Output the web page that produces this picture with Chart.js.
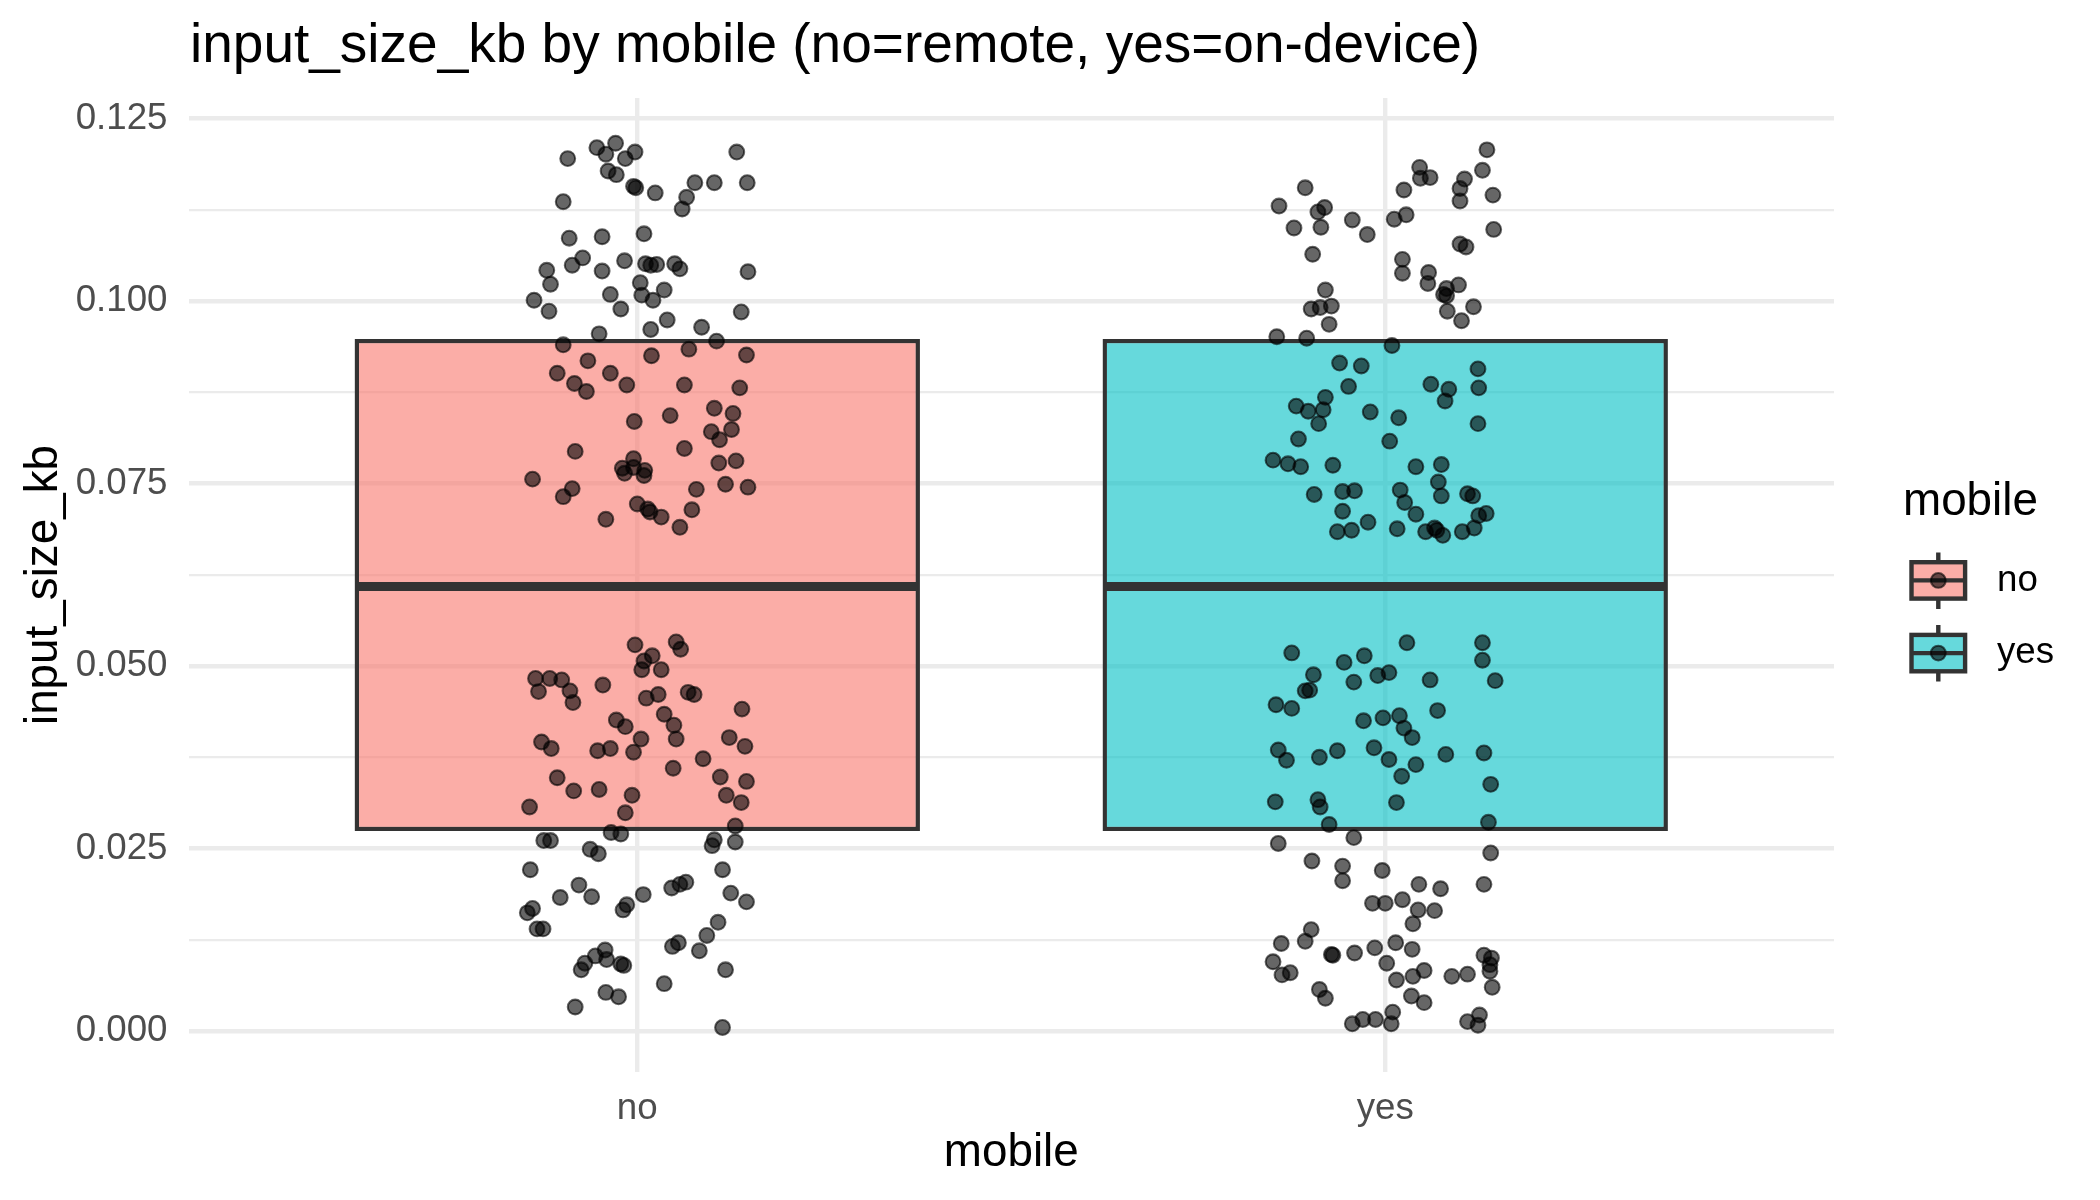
<!DOCTYPE html>
<html>
<head>
<meta charset="utf-8">
<title>input_size_kb by mobile</title>
<script src="https://cdn.jsdelivr.net/npm/chart.js@4.4.1/dist/chart.umd.min.js"></script>
<style>
  html, body { margin: 0; padding: 0; background: #ffffff; }
  #wrap { width: 2100px; height: 1200px; }
</style>
</head>
<body>
<div id="wrap"><canvas id="boxChart" width="2100" height="1200"></canvas></div>
<script>
// --- data ---
const categories = ['no', 'yes'];
const boxQ1 = [0.0274, 0.0274];
const boxMedian = [0.0609, 0.0609];
const boxQ3 = [0.0948, 0.0948];
const yTickValues = [0, 0.0125, 0.025, 0.0375, 0.05, 0.0625, 0.075, 0.0875, 0.1, 0.1125, 0.125];

// jittered points: [x position, input_size_kb]
const noPoints = [
    [0.907, 0.1195], [0.946, 0.1210], [0.971, 0.1216], [0.958, 0.1201], [0.984, 0.1195], [0.997, 0.1204],
    [0.961, 0.1178], [0.972, 0.1173], [0.995, 0.1157], [0.998, 0.1155], [1.024, 0.1148], [0.901, 0.1136],
    [1.077, 0.1162], [1.103, 0.1162], [1.147, 0.1162], [1.133, 0.1204], [1.066, 0.1142], [1.060, 0.1126],
    [0.909, 0.1086], [0.953, 0.1088], [1.009, 0.1092], [0.879, 0.1042], [0.884, 0.1023], [0.913, 0.1049],
    [0.927, 0.1059], [0.953, 0.1041], [0.983, 0.1055], [1.011, 0.1051], [1.018, 0.1049], [1.026, 0.1050],
    [1.050, 0.1051], [1.057, 0.1044], [1.148, 0.1040], [1.004, 0.1025], [1.006, 0.1008], [1.021, 0.1001],
    [1.036, 0.1015], [0.964, 0.1009], [0.978, 0.0989], [0.862, 0.1001], [0.882, 0.0986], [1.139, 0.0985],
    [1.040, 0.0974], [1.018, 0.0961], [1.086, 0.0964], [0.949, 0.0955],
    [0.901, 0.0940], [1.106, 0.0945], [0.934, 0.0918], [1.019, 0.0925], [1.069, 0.0934], [1.146, 0.0926],
    [0.893, 0.0901], [0.916, 0.0887], [0.932, 0.0876], [0.964, 0.0901], [0.986, 0.0885], [1.063, 0.0885],
    [1.137, 0.0881], [0.996, 0.0835], [1.044, 0.0843], [1.103, 0.0853], [1.128, 0.0846], [1.099, 0.0821],
    [1.126, 0.0824], [1.110, 0.0810], [0.917, 0.0794], [1.063, 0.0798], [0.995, 0.0784], [0.980, 0.0771],
    [0.983, 0.0764], [0.995, 0.0772], [1.010, 0.0768], [1.009, 0.0761], [1.109, 0.0778], [1.132, 0.0781],
    [0.860, 0.0756], [0.913, 0.0743], [0.901, 0.0732], [1.079, 0.0742], [1.118, 0.0749], [1.148, 0.0745],
    [1.000, 0.0722], [1.014, 0.0715], [1.017, 0.0711], [1.032, 0.0704], [1.073, 0.0714], [1.057, 0.0690],
    [0.958, 0.0701],
    [0.997, 0.0529], [1.052, 0.0533], [1.058, 0.0523], [1.020, 0.0514], [1.009, 0.0507], [1.006, 0.0495],
    [1.032, 0.0495], [0.864, 0.0483], [0.883, 0.0483], [0.899, 0.0481], [0.868, 0.0465], [0.910, 0.0466],
    [0.914, 0.0450], [0.954, 0.0474], [1.012, 0.0456], [1.028, 0.0461], [1.068, 0.0464], [1.076, 0.0461],
    [1.140, 0.0441], [0.972, 0.0426], [0.984, 0.0417], [1.036, 0.0434], [1.049, 0.0419], [1.052, 0.0400],
    [1.005, 0.0400], [0.995, 0.0382], [0.964, 0.0387], [0.947, 0.0384], [0.872, 0.0396], [0.885, 0.0387],
    [1.123, 0.0402], [1.144, 0.0390], [1.088, 0.0373], [1.048, 0.0360], [0.893, 0.0347], [0.915, 0.0329],
    [0.949, 0.0331], [0.993, 0.0323], [0.984, 0.0299], [0.856, 0.0307], [1.111, 0.0348], [1.146, 0.0342],
    [1.119, 0.0323], [1.139, 0.0313], [1.131, 0.0281],
    [0.965, 0.0272], [0.978, 0.0270], [0.875, 0.0261], [0.884, 0.0261], [0.937, 0.0249], [0.948, 0.0243],
    [1.103, 0.0262], [1.100, 0.0254], [1.131, 0.0259], [0.857, 0.0221], [1.114, 0.0221], [0.922, 0.0200],
    [0.897, 0.0183], [0.939, 0.0184], [0.860, 0.0168], [0.853, 0.0162], [0.866, 0.0140], [0.874, 0.0140],
    [0.986, 0.0173], [0.981, 0.0166], [1.008, 0.0187], [1.046, 0.0196], [1.057, 0.0201], [1.065, 0.0204],
    [1.125, 0.0189], [1.146, 0.0177], [1.108, 0.0149], [1.093, 0.0131], [1.083, 0.0110], [1.047, 0.0116],
    [1.055, 0.0121], [1.118, 0.0084], [1.036, 0.0065], [1.114, 0.0005], [0.957, 0.0111], [0.944, 0.0103],
    [0.930, 0.0093], [0.925, 0.0084], [0.959, 0.0098], [0.978, 0.0092], [0.982, 0.0090], [0.958, 0.0053],
    [0.975, 0.0047], [0.917, 0.0033]
];

const yesPoints = [
    [2.136, 0.1207], [2.130, 0.1179], [2.106, 0.1167], [2.100, 0.1154], [2.100, 0.1137], [2.144, 0.1145],
    [2.046, 0.1183], [2.047, 0.1168], [2.060, 0.1169], [2.025, 0.1152], [2.028, 0.1118], [2.012, 0.1112],
    [1.893, 0.1155], [1.858, 0.1130], [1.910, 0.1122], [1.919, 0.1128], [1.878, 0.1100], [1.914, 0.1101],
    [1.956, 0.1111], [1.976, 0.1091], [1.903, 0.1064], [2.145, 0.1098], [2.100, 0.1078], [2.108, 0.1074],
    [2.023, 0.1057], [2.023, 0.1038], [2.058, 0.1039], [2.057, 0.1024], [2.098, 0.1022], [2.082, 0.1017],
    [2.078, 0.1009], [2.082, 0.1007], [2.083, 0.0986], [2.102, 0.0973], [2.118, 0.0992], [1.920, 0.1015],
    [1.901, 0.0989], [1.913, 0.0991], [1.928, 0.0993], [1.925, 0.0968], [1.855, 0.0951], [1.895, 0.0949],
    [2.009, 0.0939], [1.939, 0.0915], [1.968, 0.0911], [1.951, 0.0883], [1.920, 0.0868], [1.881, 0.0856],
    [1.897, 0.0849], [1.917, 0.0851], [1.911, 0.0832], [1.980, 0.0848], [2.018, 0.0840], [1.884, 0.0811],
    [2.006, 0.0808], [2.061, 0.0886], [2.085, 0.0879], [2.080, 0.0863], [2.124, 0.0907], [2.125, 0.0881],
    [2.124, 0.0832], [1.850, 0.0782], [1.870, 0.0777], [1.887, 0.0773], [1.930, 0.0775], [2.041, 0.0773],
    [2.075, 0.0776], [2.071, 0.0752], [2.075, 0.0733], [1.905, 0.0735], [1.943, 0.0739], [1.959, 0.0740],
    [2.020, 0.0741], [2.026, 0.0724], [2.041, 0.0708], [1.943, 0.0712], [1.977, 0.0697], [1.936, 0.0684],
    [1.955, 0.0686], [2.016, 0.0688], [2.054, 0.0684], [2.066, 0.0689], [2.069, 0.0686], [2.077, 0.0679],
    [2.103, 0.0684], [2.119, 0.0689], [2.110, 0.0736], [2.117, 0.0733], [2.125, 0.0706], [2.135, 0.0709],
    [1.875, 0.0518], [2.029, 0.0532], [2.130, 0.0532], [2.130, 0.0508], [2.147, 0.0480], [1.945, 0.0505],
    [1.972, 0.0514], [1.958, 0.0478], [1.990, 0.0487], [2.005, 0.0491], [2.060, 0.0481], [1.904, 0.0488],
    [1.893, 0.0466], [1.899, 0.0467], [1.854, 0.0447], [1.875, 0.0442], [2.070, 0.0439], [1.971, 0.0425],
    [1.997, 0.0429], [2.019, 0.0432], [2.025, 0.0415], [2.036, 0.0402], [1.857, 0.0385], [1.868, 0.0371],
    [1.912, 0.0375], [1.936, 0.0384], [1.985, 0.0388], [2.005, 0.0372], [2.041, 0.0365], [2.022, 0.0349],
    [2.081, 0.0379], [2.132, 0.0381], [2.141, 0.0338], [1.853, 0.0314], [1.910, 0.0317], [1.913, 0.0307],
    [2.015, 0.0313], [1.925, 0.0283], [2.138, 0.0286],
    [1.958, 0.0265], [1.857, 0.0257], [2.141, 0.0244], [1.902, 0.0233], [1.943, 0.0226], [1.943, 0.0206],
    [1.996, 0.0220], [2.045, 0.0201], [2.074, 0.0195], [2.132, 0.0201], [1.983, 0.0175], [2.000, 0.0175],
    [2.023, 0.0180], [2.044, 0.0166], [2.066, 0.0165], [2.037, 0.0147], [1.901, 0.0139], [1.893, 0.0123],
    [1.861, 0.0120], [1.850, 0.0095], [1.862, 0.0077], [1.873, 0.0080], [1.928, 0.0105], [1.930, 0.0104],
    [1.959, 0.0107], [1.986, 0.0114], [2.002, 0.0093], [2.014, 0.0121], [2.036, 0.0112], [2.015, 0.0070],
    [2.037, 0.0075], [2.052, 0.0083], [2.089, 0.0075], [2.110, 0.0078], [2.035, 0.0048], [2.052, 0.0039],
    [1.912, 0.0057], [1.920, 0.0045], [2.132, 0.0104], [2.142, 0.0100], [2.140, 0.0091], [2.140, 0.0082],
    [2.143, 0.0060], [1.956, 0.0010], [1.970, 0.0016], [1.987, 0.0016], [2.010, 0.0026], [2.008, 0.0010],
    [2.110, 0.0013], [2.126, 0.0022], [2.124, 0.0008]
];

// --- look ---
const FONT = "'Liberation Sans', Arial, Helvetica, sans-serif";
const TITLE = 'input_size_kb by mobile (no=remote, yes=on-device)';
const X_TITLE = 'mobile';
const Y_TITLE = 'input_size_kb';
const BOX_FILLS = ['rgba(248, 118, 109, 0.6)', 'rgba(0, 191, 196, 0.6)'];
const LINE_DARK = '#333333';
const GRID = '#EBEBEB';
const BOX_WIDTH = 0.75;
const BOX_BORDER = 4.4;
const POINT_FILL = 'rgba(0, 0, 0, 0.6)';

const isMajor = (v) => Math.abs(v / 0.025 - Math.round(v / 0.025)) < 1e-6;

const medianDatasets = categories.map((cat, i) => ({
    type: 'line',
    label: cat + ' median',
    data: [
        { x: i + 1 - BOX_WIDTH / 2, y: boxMedian[i] },
        { x: i + 1 + BOX_WIDTH / 2, y: boxMedian[i] }
    ],
    showLine: true,
    borderColor: LINE_DARK,
    borderWidth: 8.9,
    borderCapStyle: 'butt',
    pointRadius: 0,
    order: 1
}));

const pointDataset = (label, pts) => ({
    type: 'scatter',
    label: label,
    data: pts.map(p => ({ x: p[0], y: p[1] })),
    backgroundColor: POINT_FILL,
    borderColor: POINT_FILL,
    pointRadius: 7.4,
    pointBorderWidth: 2.1,
    order: 0
});

// title, axis titles and the boxplot legend, placed like ggplot does
const ggText = {
    id: 'ggText',
    afterDraw(chart) {
        const ctx = chart.ctx;
        const area = chart.chartArea;
        ctx.save();
        ctx.fillStyle = '#000000';

        ctx.font = '55px ' + FONT;
        ctx.textAlign = 'left';
        ctx.textBaseline = 'alphabetic';
        ctx.fillText(TITLE, 190, 62);

        ctx.font = '45.8px ' + FONT;
        ctx.textAlign = 'center';
        ctx.textBaseline = 'middle';
        ctx.fillText(X_TITLE, (area.left + area.right) / 2, 1153);

        ctx.save();
        ctx.translate(44, (area.top + area.bottom) / 2);
        ctx.rotate(-Math.PI / 2);
        ctx.fillText(Y_TITLE, 0, 0);
        ctx.restore();

        // legend
        ctx.textAlign = 'left';
        ctx.fillText('mobile', 1903, 502);

        const keyLeft = 1911.5, keyW = 53.6, keyCx = keyLeft + keyW / 2;
        categories.forEach((cat, i) => {
            const cy = 580.4 + i * 72.7;
            ctx.fillStyle = BOX_FILLS[i];
            ctx.fillRect(keyLeft, cy - 18.2, keyW, 36.4);

            ctx.strokeStyle = LINE_DARK;
            ctx.lineWidth = BOX_BORDER;
            ctx.beginPath();
            ctx.moveTo(keyCx, cy - 28); ctx.lineTo(keyCx, cy - 18.2);
            ctx.moveTo(keyCx, cy + 18.2); ctx.lineTo(keyCx, cy + 28.5);
            ctx.stroke();
            ctx.strokeRect(keyLeft, cy - 18.2, keyW, 36.4);
            ctx.beginPath();
            ctx.moveTo(keyLeft, cy); ctx.lineTo(keyLeft + keyW, cy);
            ctx.stroke();

            ctx.fillStyle = POINT_FILL;
            ctx.strokeStyle = POINT_FILL;
            ctx.lineWidth = 2.1;
            ctx.beginPath();
            ctx.arc(keyCx, cy, 7.4, 0, Math.PI * 2);
            ctx.fill();
            ctx.stroke();

            ctx.fillStyle = '#000000';
            ctx.font = '36.7px ' + FONT;
            ctx.textBaseline = 'middle';
            ctx.fillText(cat, 1997, cy);
        });
        ctx.restore();
    }
};

Chart.defaults.font.family = FONT;

const ctx = document.getElementById('boxChart').getContext('2d');
const boxChart = new Chart(ctx, {
    type: 'scatter',
    data: {
        datasets: [
            pointDataset('no', noPoints),
            pointDataset('yes', yesPoints),
            ...medianDatasets,
            {
                type: 'bar',
                label: 'box',
                data: categories.map((cat, i) => ({ x: i + 1, y: [boxQ1[i], boxQ3[i]] })),
                backgroundColor: BOX_FILLS,
                borderColor: LINE_DARK,
                borderWidth: BOX_BORDER,
                borderSkipped: false,
                categoryPercentage: 1,
                // chart.js puts the border inside the bar, ggplot centres it on the edge
                barPercentage: BOX_WIDTH + BOX_BORDER / 748,
                order: 2
            }
        ]
    },
    options: {
        responsive: false,
        devicePixelRatio: 1,
        animation: false,
        events: [],
        layout: { padding: { left: 0, top: 98, right: 266, bottom: 0 } },
        plugins: {
            legend: { display: false },
            title: { display: false },
            tooltip: { enabled: false }
        },
        scales: {
            x: {
                type: 'linear',
                min: 0.4,
                max: 2.6,
                offset: false,
                afterFit: (scale) => { scale.height = 128; },
                afterBuildTicks: (scale) => {
                    scale.ticks = categories.map((c, i) => ({ value: i + 1 }));
                },
                border: { display: false },
                grid: { color: GRID, lineWidth: 4.4, drawTicks: false, offset: false },
                ticks: {
                    padding: 14.5,
                    color: '#4D4D4D',
                    font: { size: 36.7 },
                    maxRotation: 0,
                    callback: (value) => categories[Math.round(value) - 1] || ''
                }
            },
            y: {
                type: 'linear',
                min: -0.0056,
                max: 0.1278,
                beginAtZero: false,
                afterFit: (scale) => { scale.width = 188.5; },
                afterBuildTicks: (scale) => {
                    scale.ticks = yTickValues.map(v => ({ value: v }));
                },
                border: { display: false },
                grid: {
                    color: GRID,
                    drawTicks: false,
                    lineWidth: (c) => (c.tick && isMajor(c.tick.value)) ? 4.4 : 2.2
                },
                ticks: {
                    padding: 21,
                    color: '#4D4D4D',
                    font: { size: 36.7 },
                    callback: (value) => isMajor(value) ? value.toFixed(3) : ''
                }
            }
        }
    },
    plugins: [ggText]
});
</script>
</body>
</html>
